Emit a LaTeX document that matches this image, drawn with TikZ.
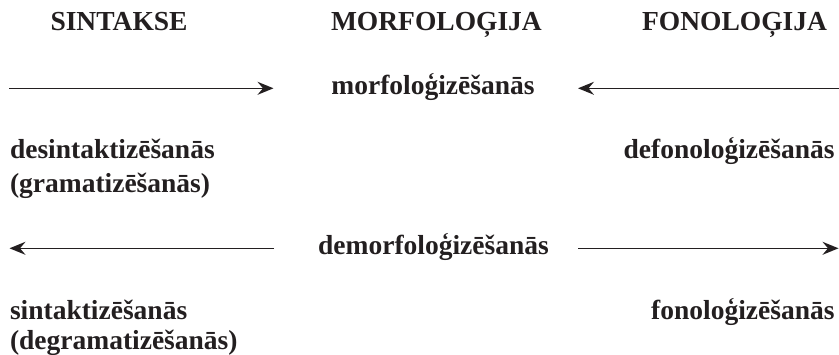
\documentclass[tikz,border=0pt]{standalone}
\usepackage{fontspec}
\setmainfont{Liberation Serif}
\usetikzlibrary{arrows.meta}
\definecolor{ink}{HTML}{231F20}
\tikzset{
  lbl/.style={inner sep=0pt, outer sep=0pt, text=ink, font=\fontsize{27.5}{33}\selectfont\bfseries},
  conn/.style={draw=ink, line width=1.3pt, -{Stealth[length=16pt,width=13pt,inset=5.5pt]}}
}
\begin{document}
\begin{tikzpicture}[x=1pt,y=-1pt]
\useasboundingbox (0,0) rectangle (839,355);
% headers
\node[lbl, anchor=base west] (sin) at (50.5,31) {SINTAKSE};
\node[lbl, anchor=base west] (mor) at (331,31) {MORFOLOĢIJA};
\node[lbl, anchor=base east] (fon) at (827,31) {FONOLOĢIJA};
% middle terms
\node[lbl, anchor=base] (morf) at (433,94.5) {morfoloģizēšanās};
\node[lbl, anchor=base] (demorf) at (433.5,254.5) {demorfoloģizēšanās};
% left / right terms
\node[lbl, anchor=base west] (desin1) at (10,159) {desintaktizēšanās};
\node[lbl, anchor=base west] (desin2) at (10,192.5) {(gramatizēšanās)};
\node[lbl, anchor=base east] (defon) at (834.5,159) {defonoloģizēšanās};
\node[lbl, anchor=base west] (sint1) at (10,319.5) {sintaktizēšanās};
\node[lbl, anchor=base west] (sint2) at (10,350) {(degramatizēšanās)};
\node[lbl, anchor=base east] (fonz) at (834.5,319.5) {fonoloģizēšanās};
% arrow ends
\coordinate (a1s) at (9,88.3);
\coordinate (a1e) at (273.5,88.3);
\coordinate (a2s) at (839,88.3);
\coordinate (a2e) at (578,88.3);
\coordinate (a3s) at (274,248.3);
\coordinate (a3e) at (9.5,248.3);
\coordinate (a4s) at (578,248.3);
\coordinate (a4e) at (838.5,248.3);
\draw[conn] (a1s) -- (a1e);
\draw[conn] (a2s) -- (a2e);
\draw[conn] (a3s) -- (a3e);
\draw[conn] (a4s) -- (a4e);
\end{tikzpicture}
\end{document}
